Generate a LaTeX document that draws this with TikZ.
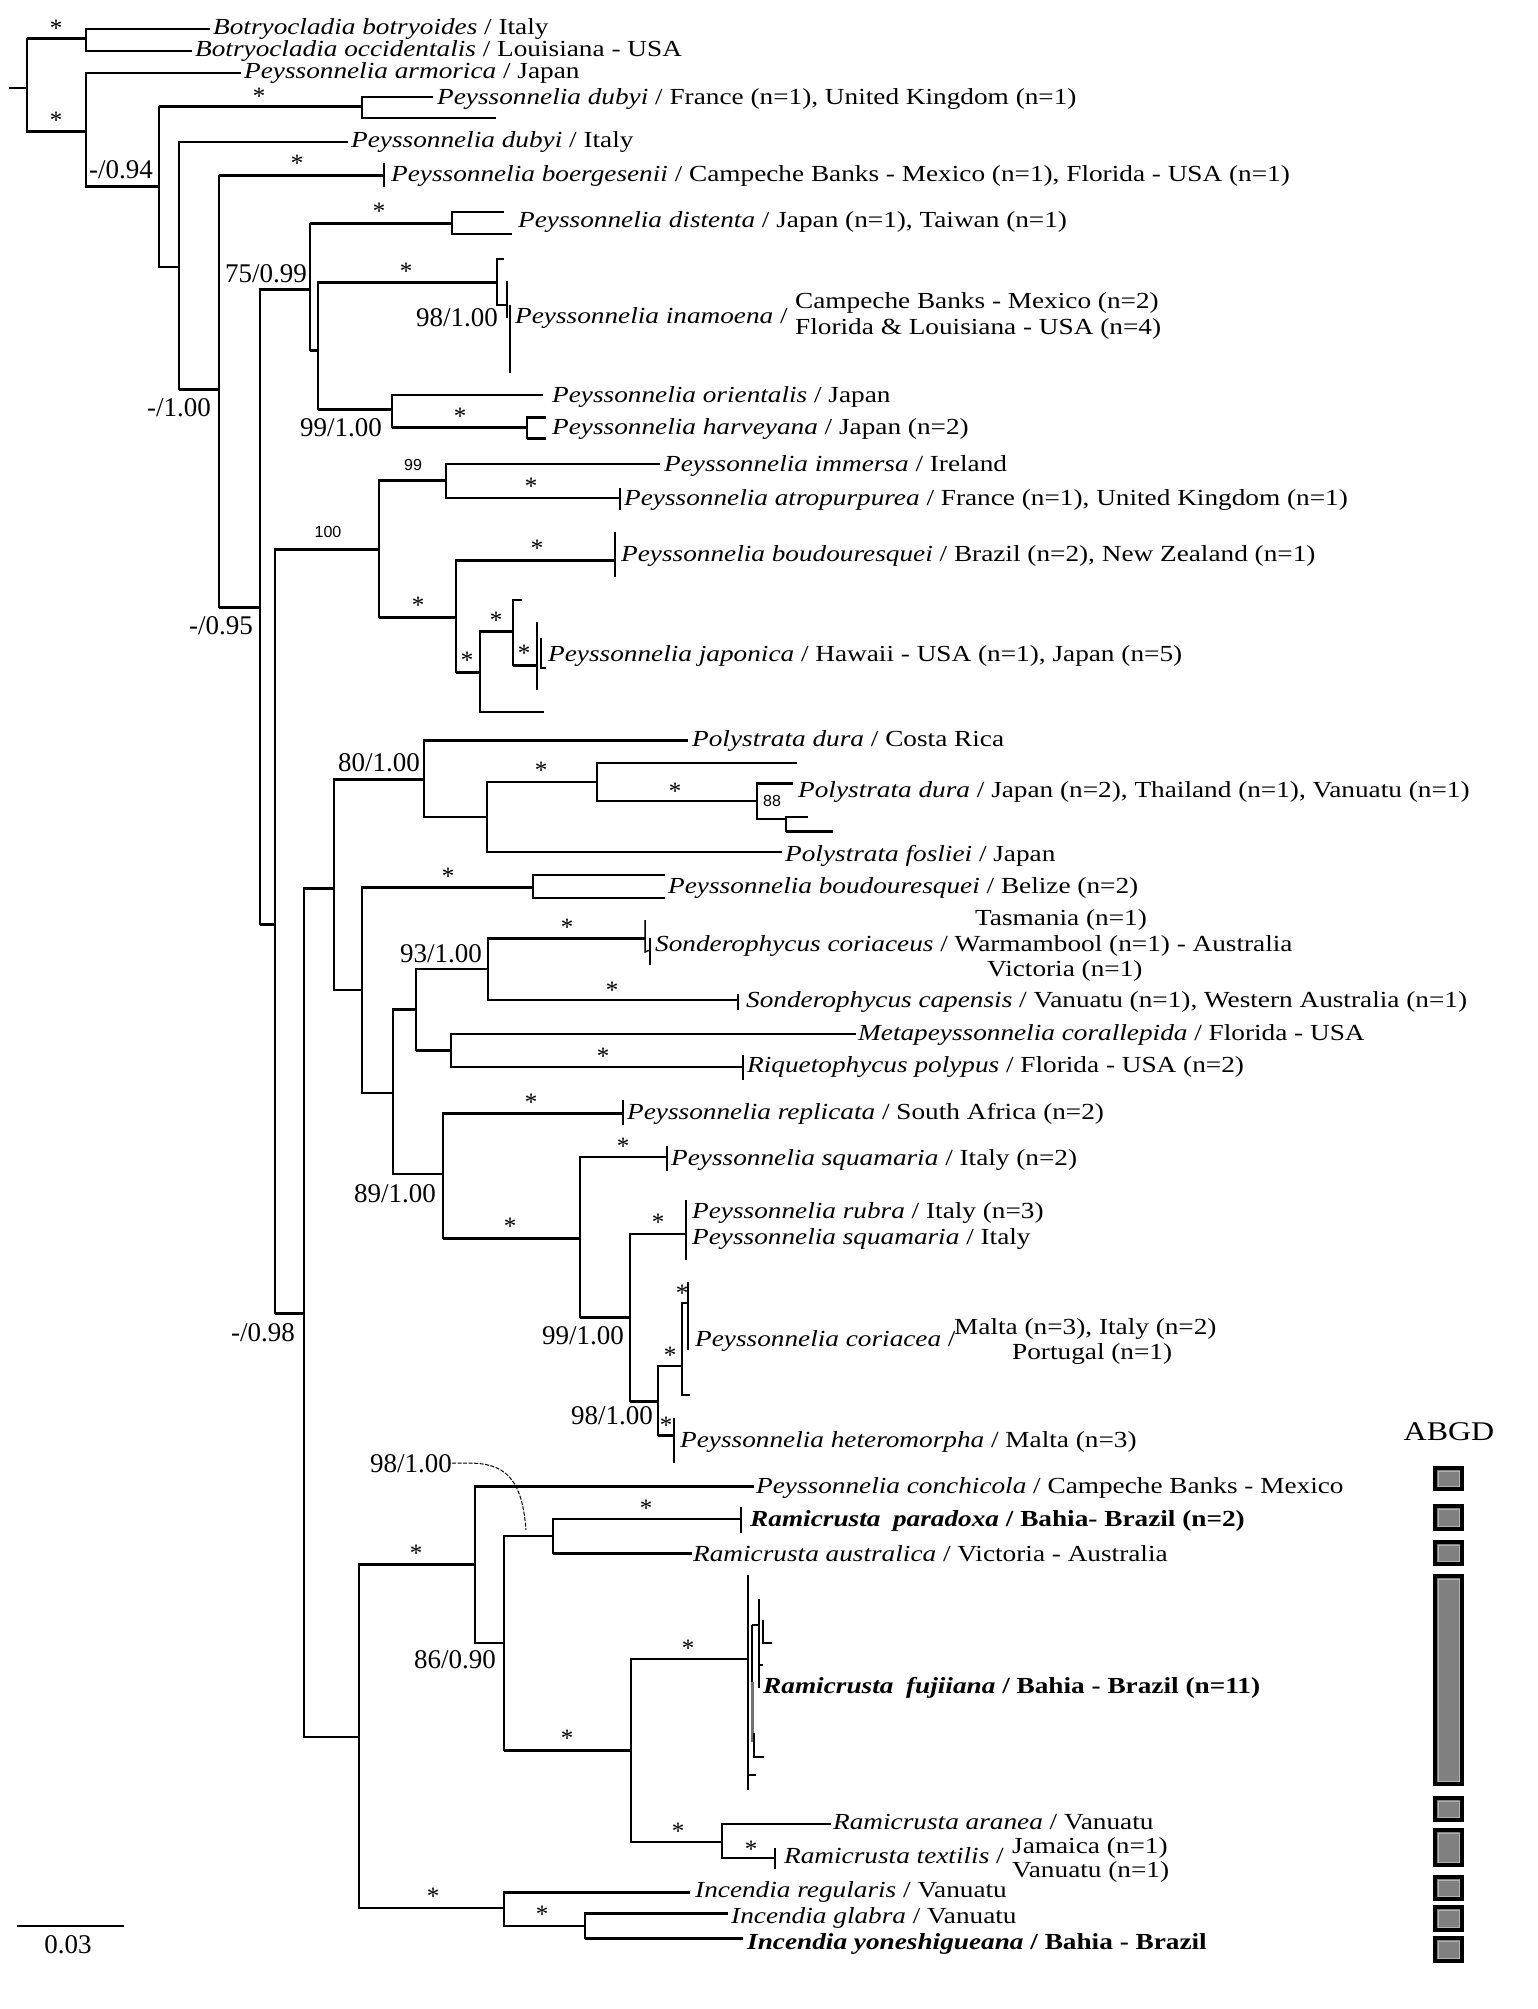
\documentclass[tikz,border=0pt]{standalone}
\usepackage{fontspec}
\setmainfont{Liberation Serif}[FakeStretch=1.185]
\newfontfamily\supfont{Liberation Serif}
\newfontfamily\smsans{Liberation Sans}
\usetikzlibrary{calc}
\newcommand{\lbf}{\fontsize{23}{26}\selectfont}
\newcommand{\supf}{\supfont\fontsize{27}{30}\selectfont}
\newcommand{\astf}{\supfont\fontsize{25}{28}\selectfont}
\newcommand{\smf}{\smsans\fontsize{16}{18}\selectfont}
\newcommand{\brn}[2]{\draw[thn] (#1) |- (#2);}
\newcommand{\brk}[2]{\draw[thn] (#1) |- (#2); \draw[thk] (#1 |- #2) -- (#2);}
\tikzset{
  thn/.style={line width=1.5pt},
  thk/.style={line width=3pt},
  lab/.style={anchor=west, inner sep=0pt, font=\lbf, text height=17pt, text depth=5pt},
  sup/.style={inner sep=0pt, font=\supf, text height=18pt, text depth=0pt},
  ast/.style={inner sep=0pt, font=\astf, yshift=-3.5pt},
  sml/.style={inner sep=0pt, font=\smf, text height=11.5pt, text depth=0pt},
  abgd/.style={draw=black, line width=3.5pt, fill=black!50},
}
\begin{document}
\begin{tikzpicture}[x=1pt,y=-1pt]
\fill[white] (0,0) rectangle (1538,2009);
\useasboundingbox (0,0) rectangle (1538,2009);
% ---------- coordinates ----------
\coordinate (r0) at (9,88);
\coordinate (root) at (27,88);
\coordinate (Bot) at (86,39);
\coordinate (bot1) at (210,29);
\coordinate (bot2) at (192,51);
\coordinate (A) at (86,132);
\coordinate (arm) at (241,73);
\coordinate (B) at (159,187);
\coordinate (dub) at (362,107);
\coordinate (dubF) at (433,97);
\coordinate (dub2) at (496,118);
\coordinate (C) at (179,267);
\coordinate (dubI) at (348,142);
\coordinate (D) at (219,389);
\coordinate (boe) at (384,176);
\coordinate (E) at (260,607);
\coordinate (n75) at (310,289);
\coordinate (dis) at (452,224);
\coordinate (dis1) at (504,212);
\coordinate (dis2) at (512,234);
\coordinate (n99a) at (318,350);
\coordinate (ina) at (497,282);
\coordinate (ina1) at (504,259);
\coordinate (ina2) at (507,305);
\coordinate (ina2t) at (507,281);
\coordinate (ina2b) at (507,318);
\coordinate (ina3t) at (510,305);
\coordinate (ina3b) at (510,373);
\coordinate (n99b) at (392,409);
\coordinate (ori) at (543,395);
\coordinate (har) at (527,427);
\coordinate (har1) at (546,417);
\coordinate (har2) at (546,438);
\coordinate (F) at (275,924);
\coordinate (n100) at (379,549);
\coordinate (n99) at (446,480);
\coordinate (imm) at (660,464);
\coordinate (atr) at (620,498);
\coordinate (J) at (456,617);
\coordinate (bou) at (615,560);
\coordinate (K) at (480,672);
\coordinate (kt) at (544,712);
\coordinate (L) at (513,631);
\coordinate (lt) at (522,600);
\coordinate (M) at (537,665);
\coordinate (Mt) at (537,622);
\coordinate (Mb) at (537,690);
\coordinate (M2t) at (541,638);
\coordinate (M2b) at (541,668);
\coordinate (M2e) at (546,668);
\coordinate (G) at (304,1313);
\coordinate (H) at (334,888);
\coordinate (n80) at (424,779);
\coordinate (pdc) at (688,740);
\coordinate (P) at (487,817);
\coordinate (Q) at (597,782);
\coordinate (q1) at (797,763);
\coordinate (n88) at (757,801);
\coordinate (pdj) at (793,783);
\coordinate (n88b) at (786,819);
\coordinate (p1) at (808,817);
\coordinate (p2) at (833,831);
\coordinate (fos) at (782,852);
\coordinate (N) at (362,990);
\coordinate (bel) at (533,887);
\coordinate (bel1) at (665,875);
\coordinate (bel2) at (665,898);
\coordinate (O) at (393,1093);
\coordinate (n93) at (416,1009);
\coordinate (S) at (488,969);
\coordinate (son1) at (645,938);
\coordinate (son1t) at (645,920);
\coordinate (son1b) at (645,952);
\coordinate (son1c) at (650,950);
\coordinate (son1d) at (650,938);
\coordinate (son1e) at (650,965);
\coordinate (son2) at (738,1000);
\coordinate (T) at (451,1050);
\coordinate (met) at (856,1034);
\coordinate (riq) at (743,1067);
\coordinate (n89) at (443,1174);
\coordinate (rep) at (623,1113);
\coordinate (U) at (580,1238);
\coordinate (squ) at (667,1157);
\coordinate (V) at (630,1317);
\coordinate (rub) at (686,1234);
\coordinate (W) at (658,1401);
\coordinate (X) at (682,1366);
\coordinate (X2) at (688,1303);
\coordinate (Xb) at (690,1395);
\coordinate (het) at (674,1435);
\coordinate (R) at (359,1737);
\coordinate (Y) at (475,1564);
\coordinate (con) at (754,1486);
\coordinate (Z) at (504,1643);
\coordinate (AA) at (553,1536);
\coordinate (par) at (741,1519);
\coordinate (aus) at (692,1553);
\coordinate (BB) at (631,1750);
\coordinate (fuj) at (748,1659);
\coordinate (fjt) at (748,1575);
\coordinate (fjb) at (748,1790);
\coordinate (fa) at (752,1625);
\coordinate (fab) at (752,1742);
\coordinate (fag) at (752,1682);
\coordinate (fb) at (759,1625);
\coordinate (fbt) at (759,1599);
\coordinate (fbb) at (759,1688);
\coordinate (fc) at (763,1620);
\coordinate (fcb) at (763,1643);
\coordinate (fce) at (772,1643);
\coordinate (fd) at (763,1665);
\coordinate (fe) at (754,1733);
\coordinate (feb) at (754,1757);
\coordinate (fee) at (764,1757);
\coordinate (ff) at (756,1775);
\coordinate (CC) at (722,1842);
\coordinate (ara) at (831,1824);
\coordinate (tex) at (775,1858);
\coordinate (Inc) at (504,1908);
\coordinate (reg) at (690,1892);
\coordinate (DD) at (585,1926);
\coordinate (gla) at (728,1913);
\coordinate (yon) at (743,1938);
% ---------- branches ----------
\draw[thn] (r0) -- (root);
\brk{root}{Bot} \brn{Bot}{bot1} \brn{Bot}{bot2}
\brk{root}{A} \brn{A}{arm} \brk{A}{B}
\brk{B}{dub} \brn{dub}{dubF} \brn{dub}{dub2}
\brn{B}{C} \brn{C}{dubI} \brk{C}{D}
\brk{D}{boe} \draw[thn] (boe) ++(0,-13) -- ++(0,24);
\brk{D}{E}
\brk{E}{n75}
\brk{n75}{dis} \brn{dis}{dis1} \brn{dis}{dis2}
\brk{n75}{n99a}
\brk{n99a}{ina} \brn{ina}{ina1} \brn{ina}{ina2}
\draw[thn] (ina2t) -- (ina2b); \draw[thn] (ina3t) -- (ina3b);
\brk{n99a}{n99b} \brn{n99b}{ori} \brk{n99b}{har}
\brk{har}{har1} \brk{har}{har2}
\brk{E}{F}
\brk{F}{n100}
\brk{n100}{n99} \brn{n99}{imm} \brn{n99}{atr}
\draw[thn] (atr) ++(0,-10) -- ++(0,22);
\brk{n100}{J} \brk{J}{bou}
\draw[thn] (bou) ++(0,-28) -- ++(0,45);
\brk{J}{K} \brn{K}{kt} \brk{K}{L} \brn{L}{lt} \brk{L}{M}
\draw[thn] (Mt) -- (Mb); \draw[thn] (M2t) -- (M2b) -- (M2e);
\brk{F}{G}
\brk{G}{H}
\brk{H}{n80} \brk{n80}{pdc} \brn{n80}{P}
\brn{P}{Q} \brn{P}{fos} \brn{Q}{q1} \brn{Q}{n88}
\brk{n88}{pdj} \brn{n88}{n88b} \brn{n88b}{p1} \brk{n88b}{p2}
\brn{H}{N} \brk{N}{bel} \brn{bel}{bel1} \brn{bel}{bel2}
\brn{N}{O} \brk{O}{n93} \brn{n93}{S}
\brk{S}{son1} \draw[thn] (son1t) -- (son1b) -- (son1c); \draw[thn] (son1d) -- (son1e);
\brn{S}{son2} \draw[thn] (son2) ++(0,-6) -- ++(0,16);
\brk{n93}{T} \brn{T}{met} \brn{T}{riq} \draw[thn] (riq) ++(0,-12) -- ++(0,25);
\brn{O}{n89} \brk{n89}{rep} \draw[thn] (rep) ++(0,-13) -- ++(0,25);
\brk{n89}{U} \brn{U}{squ} \draw[thn] (squ) ++(0,-11) -- ++(0,25);
\brk{U}{V} \brn{V}{rub} \draw[thn] (rub) ++(0,-34) -- ++(0,60);
\brk{V}{W} \brn{W}{X} \brk{W}{het} \draw[thn] (het) ++(0,-17) -- ++(0,45);
\brn{X}{X2} \brn{X}{Xb} \draw[thn] (X2) ++(0,-21) -- ++(0,68);
\brn{G}{R}
\brk{R}{Y} \brk{Y}{con} \brn{Y}{Z}
\brn{Z}{AA} \brn{AA}{par} \draw[thn] (par) ++(0,-12) -- ++(0,26); \brk{AA}{aus}
\brk{Z}{BB} \brn{BB}{fuj}
\draw[thn] (fjt) -- (fjb);
\draw[thn] (fa) -- (fab); \draw[line width=3pt, black!55] (fag) -- (fab);
\draw[thn] (fa) -- (fb); \draw[thn] (fbt) -- (fbb);
\draw[thn] (fc) -- (fcb) -- (fce); \draw[thn] (fbb |- fd) -- (fd);
\draw[thn] (fe) -- (feb) -- (fee); \draw[thn] (fjb |- ff) -- (ff);
\brn{BB}{CC} \brn{CC}{ara} \brn{CC}{tex} \draw[thn] (tex) ++(0,-10) -- ++(0,21);
\brn{R}{Inc} \brk{Inc}{reg} \brn{Inc}{DD} \brk{DD}{gla} \brk{DD}{yon}
% ---------- tip labels ----------
\node[lab] (L1) at (213,29) {\textit{Botryocladia botryoides} / Italy};
\node[lab] (L2) at (195,51) {\textit{Botryocladia occidentalis} / Louisiana - USA};
\node[lab] (L3) at (244,73) {\textit{Peyssonnelia armorica} / Japan};
\node[lab] (L4) at (437,99) {\textit{Peyssonnelia dubyi} / France (n=1), United Kingdom (n=1)};
\node[lab] (L5) at (351,142) {\textit{Peyssonnelia dubyi} / Italy};
\node[lab] (L6) at (391,176) {\textit{Peyssonnelia boergesenii} / Campeche Banks - Mexico (n=1), Florida - USA (n=1)};
\node[lab] (L7) at (518,222) {\textit{Peyssonnelia distenta} / Japan (n=1), Taiwan (n=1)};
\node[lab] (L8) at (515,317) {\textit{Peyssonnelia inamoena} /};
\node[lab] (L8a) at (795,302) {Campeche Banks - Mexico (n=2)};
\node[lab] (L8b) at (795,328) {Florida \& Louisiana - USA (n=4)};
\node[lab] (L9) at (552,396) {\textit{Peyssonnelia orientalis} / Japan};
\node[lab] (L10) at (552,428) {\textit{Peyssonnelia harveyana} / Japan (n=2)};
\node[lab] (L11) at (664,465) {\textit{Peyssonnelia immersa} / Ireland};
\node[lab] (L12) at (624,499) {\textit{Peyssonnelia atropurpurea} / France (n=1), United Kingdom (n=1)};
\node[lab] (L13) at (621,555) {\textit{Peyssonnelia boudouresquei} / Brazil (n=2), New Zealand (n=1)};
\node[lab] (L14) at (548,655) {\textit{Peyssonnelia japonica} / Hawaii - USA (n=1), Japan (n=5)};
\node[lab] (L15) at (692,740) {\textit{Polystrata dura} / Costa Rica};
\node[lab] (L16) at (798,791) {\textit{Polystrata dura} / Japan (n=2), Thailand (n=1), Vanuatu (n=1)};
\node[lab] (L17) at (785,855) {\textit{Polystrata fosliei} / Japan};
\node[lab] (L18) at (668,887) {\textit{Peyssonnelia boudouresquei} / Belize (n=2)};
\node[lab] (L19a) at (975,919) {Tasmania (n=1)};
\node[lab] (L19) at (655,945) {\textit{Sonderophycus coriaceus} / Warmambool (n=1) - Australia};
\node[lab] (L19b) at (987,970) {Victoria (n=1)};
\node[lab] (L20) at (746,1001) {\textit{Sonderophycus capensis} / Vanuatu (n=1), Western Australia (n=1)};
\node[lab] (L21) at (858,1034) {\textit{Metapeyssonnelia corallepida} / Florida - USA};
\node[lab] (L22) at (747,1066) {\textit{Riquetophycus polypus} / Florida - USA (n=2)};
\node[lab] (L23) at (627,1113) {\textit{Peyssonnelia replicata} / South Africa (n=2)};
\node[lab] (L24) at (671,1159) {\textit{Peyssonnelia squamaria} / Italy (n=2)};
\node[lab] (L25) at (692,1212) {\textit{Peyssonnelia rubra} / Italy (n=3)};
\node[lab] (L26) at (692,1238) {\textit{Peyssonnelia squamaria} / Italy};
\node[lab] (L27) at (695,1340) {\textit{Peyssonnelia coriacea} /};
\node[lab] (L27a) at (954,1328) {Malta (n=3), Italy (n=2)};
\node[lab] (L27b) at (1012,1353) {Portugal (n=1)};
\node[lab] (L28) at (680,1441) {\textit{Peyssonnelia heteromorpha} / Malta (n=3)};
\node[lab] (L29) at (756,1487) {\textit{Peyssonnelia conchicola} / Campeche Banks - Mexico};
\node[lab] (L30) at (750,1520) {\bfseries\textit{Ramicrusta\hspace{0.55em}paradoxa} / Bahia- Brazil (n=2)};
\node[lab] (L31) at (693,1555) {\textit{Ramicrusta australica} / Victoria - Australia};
\node[lab] (L32) at (763,1687) {\bfseries\textit{Ramicrusta\hspace{0.55em}fujiiana} / Bahia - Brazil (n=11)};
\node[lab] (L33) at (833,1823) {\textit{Ramicrusta aranea} / Vanuatu};
\node[lab] (L34) at (784,1857) {\textit{Ramicrusta textilis} /};
\node[lab] (L34a) at (1012,1847) {Jamaica (n=1)};
\node[lab] (L34b) at (1012,1871) {Vanuatu (n=1)};
\node[lab] (L35) at (695,1891) {\textit{Incendia regularis} / Vanuatu};
\node[lab] (L36) at (731,1917) {\textit{Incendia glabra} / Vanuatu};
\node[lab] (L37) at (747,1943) {\bfseries\textit{Incendia yoneshigueana} / Bahia - Brazil};
% ---------- support values ----------
\node[sup] (s1) at (121,170) {-/0.94};
\node[sup] (s2) at (179,407) {-/1.00};
\node[sup] (s3) at (221,625) {-/0.95};
\node[sup] (s4) at (266,273) {75/0.99};
\node[sup] (s5) at (457,317) {98/1.00};
\node[sup] (s6) at (341,427) {99/1.00};
\node[sup] (s7) at (379,762) {80/1.00};
\node[sup] (s8) at (441,953) {93/1.00};
\node[sup] (s9) at (395,1193) {89/1.00};
\node[sup] (s10) at (583,1335) {99/1.00};
\node[sup] (s11) at (612,1415) {98/1.00};
\node[sup] (s12) at (263,1332) {-/0.98};
\node[sup] (s13) at (411,1463) {98/1.00};
\node[sup] (s14) at (455,1659) {86/0.90};
\node[sml] (m1) at (328,532) {100};
\node[sml] (m2) at (413,465) {99};
\node[sml] (m3) at (772,801) {88};
\coordinate (cv) at (526,1530);
\draw[line width=1pt, dash pattern=on 4pt off 1.5pt] (s13.east) -- ++(16,0) .. controls (505,1463) and (522,1478) .. (cv);
% ---------- asterisks ----------
\foreach \px/\py [count=\i] in {56/25, 56/117, 259/93, 297/160, 379/208, 406/268, 460/413,
  531/483, 537/545, 418/602, 467/657, 496/617, 524/650, 541/767, 675/788, 448/873,
  567/924, 612/987, 603/1053, 531/1099, 510/1223, 623/1143, 658/1219, 682/1290,
  670/1352, 666/1422, 416/1550, 646/1505, 567/1735, 688/1645, 678/1828, 751/1846,
  433/1893, 542/1911}
  \node[ast] (st\i) at (\px,\py) {*};
% ---------- scale bar ----------
\coordinate (sb1) at (17,1926);
\coordinate (sb2) at (124,1926);
\draw[line width=2.5pt] (sb1) -- (sb2);
\node[sup] (sbl) at (68,1944) {0.03};
% ---------- ABGD ----------
\node[inner sep=0pt, font=\fontsize{27}{30}\selectfont] (abgd) at (1449,1432) {ABGD};
\foreach \ya/\yb [count=\i] in {1468/1489, 1506/1529, 1542/1564, 1576/1784, 1798/1820,
  1830/1865, 1877/1899, 1907/1930, 1938/1961}
  {\draw[abgd] (1435,\ya) rectangle (1462,\yb);
   \draw[line width=0.8pt, black!30] (1438,\ya+3) rectangle (1459,\yb-3);}
\end{tikzpicture}
\end{document}
